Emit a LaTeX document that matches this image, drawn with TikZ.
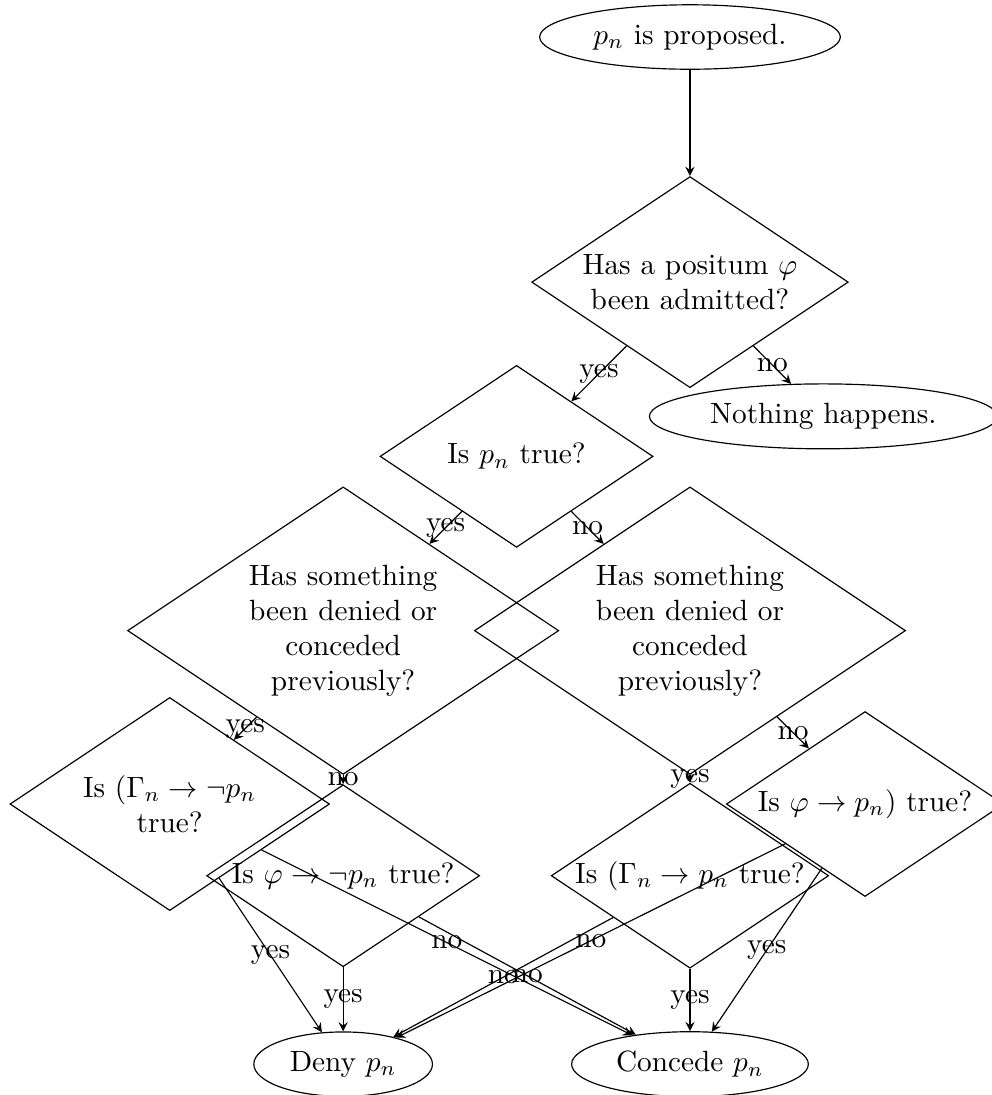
\documentclass[tikz,border=0pt]{standalone}
\usetikzlibrary{shapes.geometric}

\begin{document}
\begin{tikzpicture}[>=stealth,
    decision/.style={diamond, draw, aspect=1.5, text width=2.8cm, align=flush center, inner sep=0pt},
    outcome/.style={ellipse, draw}]
  % Respondent's answer to a proposed p_n
  \useasboundingbox (-8.276,0.444) rectangle (3.622,-12.690);
  % Proposal and first question
  \node[outcome] (start) at (0,0) {$p_n$ is proposed.};
  \node[decision] (positum) at (0,-2.94) {Has a positum $\varphi$ been admitted?};
  \node[outcome] (nothing) at (1.60,-4.55) {Nothing happens.};
  \node[decision] (truth) at (-2.08,-5.03) {Is $p_n$ true?};
  % Anything granted before?
  \node[decision] (prevtrue) at (-4.16,-7.12) {Has something been denied or conceded previously?};
  \node[decision] (prevfalse) at (0,-7.12) {Has something been denied or conceded previously?};
  % Does it follow?
  \node[decision] (gammaneg) at (-6.24,-9.20) {Is $(\Gamma_n \rightarrow \neg p_n$ true?};
  \node[decision] (phineg) at (-4.16,-10.06) {Is $\varphi \rightarrow \neg p_n$ true?};
  \node[decision] (gammapos) at (0,-10.06) {Is $(\Gamma_n \rightarrow p_n$ true?};
  \node[decision] (phipos) at (2.10,-9.20) {Is $\varphi \rightarrow p_n)$ true?};
  % Answers
  \node[outcome] (deny) at (-4.16,-12.32) {Deny $p_n$};
  \node[outcome] (concede) at (0,-12.32) {Concede $p_n$};
  % Connectors
  \draw[->] (start) -- (positum);
  \foreach \from/\to/\answer in {positum/truth/yes, positum/nothing/no,
      truth/prevtrue/yes, truth/prevfalse/no,
      prevtrue/gammaneg/yes, prevtrue/phineg/no,
      prevfalse/gammapos/yes, prevfalse/phipos/no,
      gammaneg/deny/yes, gammaneg/concede/no,
      phineg/deny/yes, phineg/concede/no,
      gammapos/concede/yes, gammapos/deny/no,
      phipos/concede/yes, phipos/deny/no} {
    \draw[->] (\from) -- node {\answer} (\to);
  }
\end{tikzpicture}
\end{document}
